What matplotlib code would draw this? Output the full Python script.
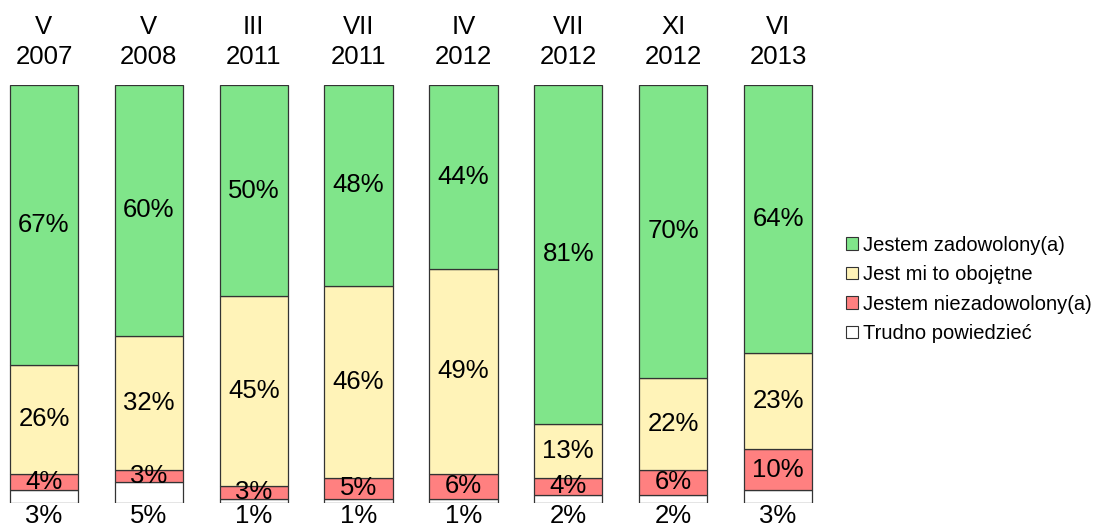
import numpy as np
import matplotlib
matplotlib.use('Agg')
import matplotlib.pyplot as plt
from matplotlib.patches import Patch

plt.rcParams['font.family'] = ['Liberation Sans', 'DejaVu Sans']

# survey waves (two-line labels above the bars)
months = ['V', 'V', 'III', 'VII', 'IV', 'VII', 'XI', 'VI']
years = ['2007', '2008', '2011', '2011', '2012', '2012', '2012', '2013']

# answers, from the bottom of the bar up
trudno = [3, 5, 1, 1, 1, 2, 2, 3]
niezadowolony = [4, 3, 3, 5, 6, 4, 6, 10]
obojetne = [26, 32, 45, 46, 49, 13, 22, 23]
zadowolony = [67, 60, 50, 48, 44, 81, 70, 64]

series = [trudno, niezadowolony, obojetne, zadowolony]
names = ['Trudno powiedzieć', 'Jestem niezadowolony(a)',
         'Jest mi to obojętne', 'Jestem zadowolony(a)']
colors = ['#FFFFFF', '#FF8080', '#FFF3B8', '#80E58A']

fig = plt.figure(figsize=(11.2, 5.26), dpi=100)
ax = fig.add_axes([2 / 1120, 23 / 526, 818 / 1120, 418 / 526])

x = np.arange(len(months))
vals = np.array(series, dtype=float)
# bars are drawn as 100% stacks
shares = vals / vals.sum(axis=0) * 100

bottom = np.zeros(len(months))
for i, (h, c) in enumerate(zip(shares, colors)):
    ax.bar(x, h, bottom=bottom, width=0.65, color=c, edgecolor='#333333',
           linewidth=0.9)
    for j in range(len(x)):
        label = f'{int(vals[i][j])}%'
        if i == 0:
            # "don't know" share goes under the bar
            ax.text(x[j], -3.0, label, ha='center', va='center', fontsize=18.5,
                    clip_on=False)
        else:
            ax.text(x[j], bottom[j] + h[j] / 2, label, ha='center',
                    va='center', fontsize=18.5)
    bottom += h

for j in range(len(x)):
    ax.text(x[j], 113.8, months[j], ha='center', va='center', fontsize=18.5,
            clip_on=False)
    ax.text(x[j], 106.8, years[j], ha='center', va='center', fontsize=18.5,
            clip_on=False)

ax.set_xlim(-0.4, 7.4)
ax.set_ylim(0, 100)
ax.axis('off')

handles = [Patch(facecolor=colors[k], edgecolor='#333333', linewidth=0.8)
           for k in [3, 2, 1, 0]]
labels = [names[k] for k in [3, 2, 1, 0]]
fig.legend(handles, labels, loc='center left', bbox_to_anchor=(0.755, 0.45),
           frameon=False, fontsize=14.5, handlelength=0.6, handleheight=0.6,
           handletextpad=0.25, labelspacing=0.52, borderaxespad=0,
           borderpad=0)

fig.savefig('out.png', dpi=100)
